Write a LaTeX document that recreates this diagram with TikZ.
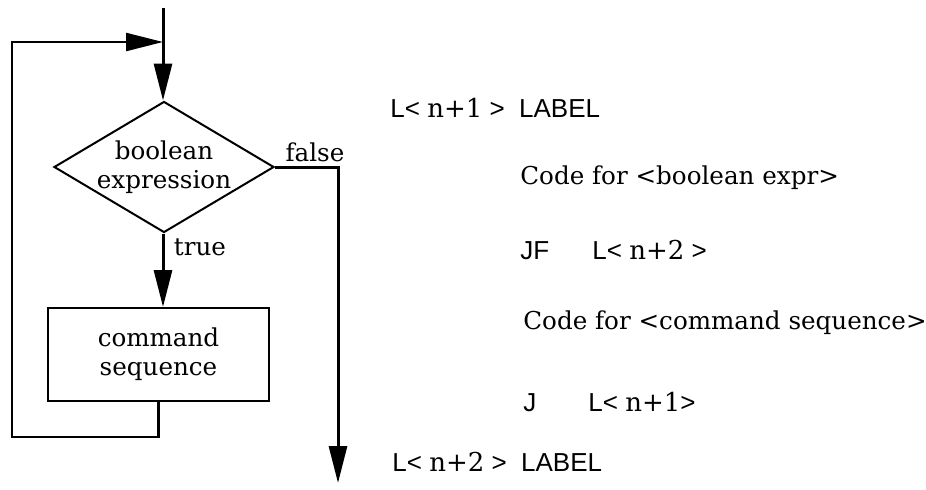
\documentclass[tikz,border=0pt]{standalone}
\usepackage{fontspec}
\setmainfont{DejaVu Serif}
\setsansfont{Liberation Sans}
\usetikzlibrary{arrows.meta,positioning,shapes.geometric}

\begin{document}
\begin{tikzpicture}[x=0.5pt,y=-0.5pt,
  every node/.style={font=\fontsize{12.3}{14.5}\selectfont},
  decision/.style={diamond, aspect=1.68, draw, line width=1pt, minimum width=110pt, minimum height=65.5pt, inner sep=-1pt, align=center},
  process/.style={rectangle, draw, line width=1pt, minimum width=110.5pt, minimum height=46.5pt, inner sep=0pt, align=center},
  flow/.style={-{Triangle[length=18.5pt,width=9pt]}, line width=1.5pt},
  back/.style={flow, line width=1.2pt},
  codeline/.style={anchor=west, inner sep=0pt},
  asm/.style={codeline, font=\fontsize{13}{15}\sffamily}
]
\useasboundingbox (0,0) rectangle (926,489);

\coordinate (entry) at (163,8);
\coordinate (merge) at (163,42);
\node[decision] (test) at (164,167) {boolean\\expression};
\node[process]  (body) at (158.5,354.5) {command\\sequence};
\node (false) at (315,152) {false};
\node (true)  at (200,247) {true};
\coordinate (exit)    at (338,483);
\coordinate (lowleft) at (12,437);

\draw[flow] (entry) -- (entry |- test.north);
\draw[flow] (entry |- test.south) -- (entry |- body.north);
\draw[flow] (test.east) -| (exit);
\draw[back] (body.south) |- (lowleft) |- (merge);

\node[asm]      (top)    at (390,108) {L< \textrm{n+1} >~~LABEL};
\node[codeline] (cbool)  at (520,178) {Code for <boolean expr>};
\node[asm]      (jf)     at (520,250) {\makebox[36pt][l]{JF}L< \textrm{n+2} >};
\node[codeline] (ccmd)   at (523,323) {Code for <command sequence>};
\node[asm]      (jmp)    at (523,402) {\makebox[32.5pt][l]{J}L< \textrm{n+1}>};
\node[asm]      (bottom) at (392,462) {L< \textrm{n+2} >~~LABEL};
\end{tikzpicture}
\end{document}
